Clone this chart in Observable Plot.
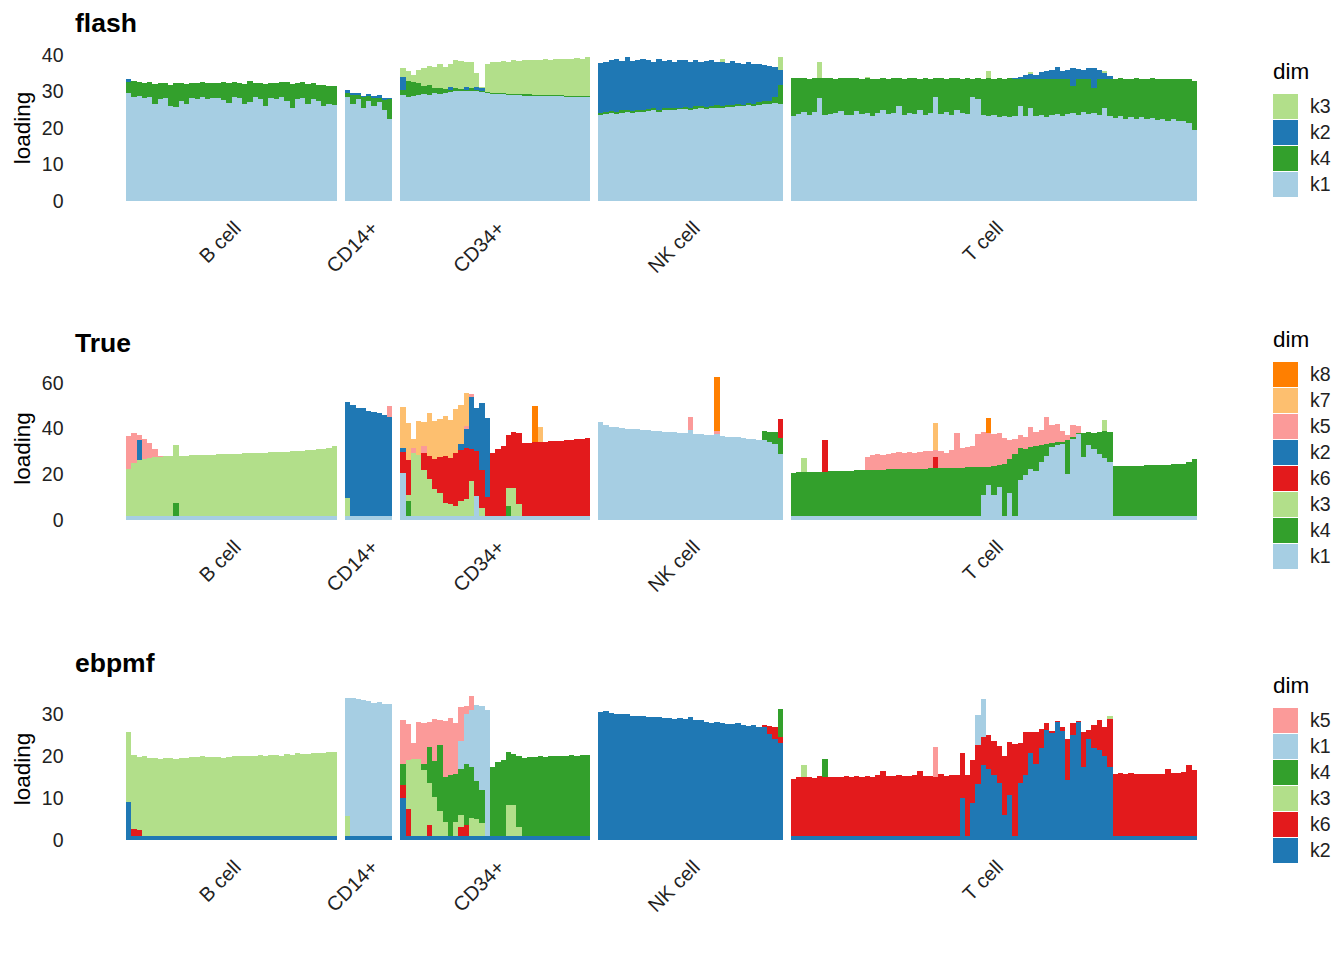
<!DOCTYPE html>
<html><head><meta charset="utf-8">
<script src="https://cdn.jsdelivr.net/npm/d3@7"></script>
<script src="https://cdn.jsdelivr.net/npm/@observablehq/plot@0.6"></script>
<style>
html,body{margin:0;padding:0;background:#fff;}
#root{position:relative;width:1344px;height:960px;overflow:hidden;background:#fff;font-family:"Liberation Sans",Arial,Helvetica,sans-serif;}
.panel{position:absolute;left:0;width:1344px;height:320px;}
.panel svg{position:absolute;left:0;top:0;}
.ptitle{position:absolute;left:75px;top:10px;font-size:26.5px;line-height:26.5px;font-weight:bold;color:#000;}
.legend{position:absolute;left:1273px;}
.ltitle{font-size:22.5px;line-height:22.5px;color:#000;height:33px;}
.item{position:relative;height:26px;width:70px;}
.sw{position:absolute;left:0;top:0;width:25px;height:25px;}
.lab{position:absolute;left:37px;top:0;line-height:25px;font-size:19.5px;color:#222;}
</style></head><body><div id="root"></div>
<script>
// ---------- categories ----------
const facetNames = ["B cell", "CD14+", "CD34+", "NK cell", "T cell"];
const facetCells = [40, 9, 36, 35, 77];
const facetGap = 1.5;
const palette = {k1:"#A6CEE3", k2:"#1F78B4", k3:"#B2DF8A", k4:"#33A02C", k5:"#FB9A99", k6:"#E31A1C", k7:"#FDBF6F", k8:"#FF7F00"};

// ---------- flash ----------
const flash_B_k1 = [29.5,28.5,28.8,28.2,28.5,26.5,28.0,28.3,26.0,25.8,27.5,26.5,28.2,28.0,28.4,28.0,28.3,28.1,27.8,26.8,28.4,28.2,26.5,27.2,28.5,28.0,26.0,28.3,28.0,28.4,27.5,25.5,28.0,28.2,26.5,28.0,27.5,26.0,26.5,26.2];
const flash_B_k4 = [3.2,4.3,3.8,4.2,4.0,5.5,4.3,3.9,5.9,6.4,4.8,5.5,4.2,4.3,4.1,4.2,4.1,4.2,4.8,5.4,4.1,4.1,5.5,5.6,3.9,4.3,6.1,4.1,4.2,4.2,5.0,6.5,4.4,4.3,5.6,4.3,4.4,5.8,5.0,5.3];
const flash_B_k2 = [[0,0.6]];
const flash_CD14_k1 = [28.5,26.5,28.0,25.5,27.5,26.0,27.0,25.0,22.5];
const flash_CD14_k4 = [1.0,2.5,1.0,3.0,1.2,2.2,1.2,2.8,5.5];
const flash_CD14_k2 = [0.8,0.5,0.6,0.4,0.7,0.6,0.8,0.5,0.3];
const flash_CD34_k1 = [29.0,28.5,28.8,29.0,29.2,29.0,29.5,29.3,29.6,29.8,30.0,30.2,30.0,30.1,30.0,29.8,29.5,29.4,29.3,29.2,29.1,29.0,29.0,28.9,28.9,28.8,28.8,28.8,28.7,28.7,28.7,28.6,28.6,28.6,28.5,28.5];
const flash_CD34_k4 = [1.5,4.5,3.8,3.3,2.3,2.8,1.5,1.7,1.2,0.6,1.0,0.6,0.3,0.9,0.3,0.3,0.3,0.3,0.3,0.3,0.3,0.3,0.3,0.3,0.3,0.3,0.3,0.3,0.3,0.3,0.3,0.3,0.3,0.3,0.3,0.3];
const flash_CD34_k2 = [[0,3.4],[9,0.8],[12,1.0],[14,1.0],[15,0.8]];
const flash_CD34_k3 = [2.5,2.5,2.0,3.7,5.0,5.2,5.6,6.6,6.0,6.3,7.6,7.6,6.7,7.2,3.7,0.2,7.7,8.3,8.6,8.8,8.8,9.2,9.1,9.4,9.3,9.6,9.5,9.7,9.7,9.9,9.8,10.1,10.0,10.2,10.2,10.6];
const flash_NK_k1 = [23.5,23.8,24.0,23.9,24.2,24.3,24.1,24.5,24.4,24.6,24.8,24.5,24.9,25.0,24.8,25.1,25.2,25.0,25.3,25.4,25.2,25.5,25.6,25.4,25.8,25.7,26.0,25.9,26.2,26.0,26.4,26.5,26.6,26.8,26.5];
const flash_NK_k4 = [0.6,0.5,0.6,0.5,0.6,0.5,0.6,0.5,0.6,0.5,0.6,0.5,0.6,0.5,0.6,0.5,0.6,0.5,0.6,0.5,0.6,0.5,0.6,0.5,0.6,0.5,0.6,0.5,0.6,0.6,0.7,0.8,0.9,1.8,5.3];
const flash_NK_k2 = [13.7,13.7,14.0,14.6,13.6,14.7,13.6,13.6,13.8,13.4,12.8,13.8,12.9,13.1,12.6,12.9,12.9,12.7,12.6,12.1,12.5,12.6,11.8,12.3,11.4,12.1,11.3,11.2,11.2,11.0,10.3,9.9,9.5,8.2,4.2];
const flash_NK_k3 = [[23,0.8],[34,3.5]];
const flash_T_k1 = [23.4,23.8,24.5,23.6,24.3,28.2,23.5,23.8,24.0,24.6,23.6,23.5,24.7,23.9,24.0,23.4,24.2,25.0,23.8,24.0,25.9,23.6,24.1,23.8,24.8,23.5,24.0,28.4,23.7,24.4,23.6,24.8,24.0,23.9,28.5,28.0,23.5,23.2,23.6,23.0,23.4,22.9,23.3,25.9,23.2,25.4,23.4,23.6,23.1,23.5,23.7,23.3,23.8,24.0,23.5,24.3,23.8,24.0,23.6,25.5,23.2,22.8,23.3,22.6,23.0,22.5,23.1,22.4,22.8,22.3,22.6,22.0,22.4,21.8,22.0,21.5,19.5];
const flash_T_k4 = [10.4,9.8,9.2,9.9,9.4,5.6,10.1,9.9,9.5,9.0,10.2,10.1,9.0,9.6,9.6,10.0,9.3,8.6,9.7,9.7,7.7,9.9,9.5,9.9,8.7,10.1,9.5,5.3,9.9,9.1,10.0,8.9,9.5,9.7,5.0,5.6,10.0,10.4,9.9,10.6,10.1,10.7,10.1,7.4,10.2,7.9,9.9,9.8,10.2,9.8,9.7,10.0,9.5,7.5,9.8,9.0,9.6,7.0,9.7,7.9,10.3,10.7,10.3,10.9,10.5,11.1,10.4,11.1,10.8,11.2,10.8,11.5,11.0,11.7,11.4,11.8,13.5];
const flash_T_k2 = [[42,0.3],[43,0.6],[44,1.0],[45,1.5],[46,1.2],[47,2.0],[48,2.2],[49,2.5],[50,3.2],[51,2.4],[52,2.6],[53,4.8],[54,2.8],[55,2.5],[56,2.9],[57,5.5],[58,2.6],[59,1.8],[60,0.8]];
const flash_T_k3 = [[5,4.2],[14,0.4],[37,2.0],[45,0.6],[59,0.5]];

// ---------- True ----------
const true_B_k1 = [1.6,1.6,1.6,1.6,1.6,1.6,1.6,1.6,1.6,1.6,1.6,1.6,1.6,1.6,1.6,1.6,1.6,1.6,1.6,1.6,1.6,1.6,1.6,1.6,1.6,1.6,1.6,1.6,1.6,1.6,1.6,1.6,1.6,1.6,1.6,1.6,1.6,1.6,1.6,1.6];
const true_B_k4 = [[9,5.7]];
const true_B_k3 = [20.9,23.4,24.6,25.2,25.6,25.9,26.1,26.2,26.4,25.5,26.5,26.6,26.7,26.8,26.9,26.9,27.0,27.1,27.2,27.2,27.3,27.4,27.5,27.6,27.7,27.8,27.9,28.0,28.1,28.2,28.3,28.4,28.5,28.7,28.9,29.1,29.3,29.6,30.0,30.6];
const true_B_k2 = [[2,9.0]];
const true_B_k5 = [[0,14.3],[1,13.2],[2,2.0],[3,8.6],[4,6.3],[5,3.5],[6,0.5]];
const true_CD14_k1 = [1.6,1.6,1.6,1.6,1.6,1.6,1.6,1.6,1.6];
const true_CD14_k3 = [[0,7.9]];
const true_CD14_k2 = [42.0,48.7,47.6,47.2,46.2,45.7,45.3,44.4,43.6];
const true_CD14_k5 = [[8,4.5]];
const true_CD34_k1 = [20.7,1.6,1.6,1.6,1.6,1.6,1.6,1.6,1.6,1.6,1.6,1.6,1.6,1.6,10.5,1.6,1.6,1.6,1.6,1.6,1.6,1.6,1.6,1.6,1.6,1.6,1.6,1.6,1.6,1.6,1.6,1.6,1.6,1.6,1.6,1.6];
const true_CD34_k4 = [[1,6.5],[20,4.5]];
const true_CD34_k3 = [0,3.0,27.9,27.0,20.4,16.2,11.8,10.4,6.0,5.3,4.5,6.7,7.4,15.4,0,3.8,0,0,0,0,7.9,12.4,5.4,0,0,0,0,0,0,0,0,0,0,0,0,0];
const true_CD34_k6 = [9.0,15.0,0,0,7.5,10.2,13.1,15.5,20.4,20.1,23.4,22.3,22.5,14.0,19.5,16.6,8.4,27.9,29.6,30.9,23.0,24.5,31.0,32.2,32.3,32.4,32.5,32.6,32.8,32.9,33.1,33.3,33.5,33.8,34.0,34.4];
const true_CD34_k2 = [[0,2.0],[11,2.5],[12,8.2],[13,23.0],[14,19.2],[15,29.3],[16,34.8]];
const true_CD34_k5 = [[2,1.8],[4,3.0],[12,1.5],[13,1.3]];
const true_CD34_k7 = [[0,17.9],[1,16.5],[2,4.0],[3,14.5],[4,10.5],[5,19.0],[6,17.0],[7,16.5],[8,17.5],[9,16.8],[10,18.9],[11,17.1],[12,14.2],[26,6.8]];
const true_CD34_k8 = [[25,16.0]];
const true_NK_k1 = [42.8,41.5,40.8,40.5,40.3,40.0,39.8,39.6,39.4,39.2,39.0,38.9,38.7,38.5,38.4,38.2,38.1,39.5,37.7,37.5,37.3,37.1,37.5,36.7,36.5,36.3,36.1,35.9,35.6,35.3,35.0,34.8,34.2,33.3,29.0];
const true_NK_k4 = [[31,4.3],[32,4.5],[33,5.0],[34,7.0]];
const true_NK_k6 = [[34,8.0]];
const true_NK_k5 = [[17,5.7],[22,1.5]];
const true_NK_k8 = [[22,23.5]];
const true_T_k1 = [1.6,1.6,1.6,1.6,1.6,1.6,1.6,1.6,1.6,1.6,1.6,1.6,1.6,1.6,1.6,1.6,1.6,1.6,1.6,1.6,1.6,1.6,1.6,1.6,1.6,1.6,1.6,1.6,1.6,1.6,1.6,1.6,1.6,1.6,1.6,1.6,
  11.0,15.3,11.0,14.5,1.6,11.7,1.6,17.5,19.5,22.5,21.5,25.5,28.0,32.0,33.0,33.2,20.0,35.5,37.5,27.7,33.0,31.0,29.0,27.0,25.5,
  1.6,1.6,1.6,1.6,1.6,1.6,1.6,1.6,1.6,1.6,1.6,1.6,1.6,1.6,1.6,1.6];
const true_T_k4 = [19.1,19.2,19.3,19.4,19.5,19.6,19.6,19.7,19.8,19.9,19.9,20.0,20.1,20.1,20.2,20.3,20.3,20.4,20.5,20.5,20.6,20.7,20.7,20.8,20.9,20.9,21.0,21.1,
  21.3,21.3,21.3,21.3,21.3,21.4,21.4,21.4,
  12.0,7.7,12.5,9.5,22.9,14.8,27.4,14.0,11.5,9.5,11.0,7.3,5.2,1.5,1.0,1.0,15.0,1.0,0.4,10.3,5.5,7.0,9.5,12.0,13.0,
  22.0,22.0,22.1,22.1,22.2,22.2,22.3,22.4,22.4,22.5,22.6,22.7,22.8,23.0,23.6,24.9];
const true_T_k3 = [[2,6.4],[59,4.8]];
const true_T_k6 = [[6,13.8],[27,5.0]];
const true_T_k5 = [0,0,0,0,0,0,0,0,0,0,0,0,0,0,
  5.7,6.6,6.9,6.6,6.8,7.1,7.4,7.1,7.5,7.1,7.4,7.7,7.4,2.9,
  7.1,6.6,7.7,15.0,8.6,8.8,9.5,14.5,15.5,15.0,14.0,14.2,11.5,8.5,6.5,5.5,5.5,8.8,6.0,6.7,11.7,8.0,8.0,4.8,2.0,5.0,3.1,
  0,0,0,0,0,0,0,0,0,0,0,0,0,0,0,0,0,0,0,0,0,0];
const true_T_k7 = [[27,11.7]];
const true_T_k8 = [[37,6.5]];

// ---------- ebpmf ----------
const ebpmf_B_k2 = [9.0,1,1,1,1,1,1,1,1,1,1,1,1,1,1,1,1,1,1,1,1,1,1,1,1,1,1,1,1,1,1,1,1,1,1,1,1,1,1,1];
const ebpmf_B_k6 = [[1,1.6],[2,1.5]];
const ebpmf_B_k3 = [16.6,17.6,17.3,18.9,18.6,18.5,18.4,18.6,18.5,18.3,18.6,18.5,18.8,18.7,18.9,18.8,18.7,18.8,18.6,18.7,19.0,18.9,19.1,18.9,19.0,19.2,19.1,19.3,19.2,19.1,19.5,19.3,19.6,19.4,19.5,19.7,19.6,19.8,19.9,20.0];
const ebpmf_CD14_k2 = [1,1,1,1,1,1,1,1,1];
const ebpmf_CD14_k3 = [[0,4.6]];
const ebpmf_CD14_k1 = [28.2,32.7,32.5,32.3,32.0,31.6,31.9,31.4,31.3];
const ebpmf_CD34_k2 = [10.0,1,1,1,1,1,1,1,1,1,1,1,1,1,1,1,1,1,1,1,1,1,1,1,1,1,1,1,1,1,1,1,1,1,1,1];
const ebpmf_CD34_k6 = [[0,3.0],[1,6.5],[5,2.6],[11,2.0],[12,2.5]];
const ebpmf_CD34_k3 = [0,11.5,18.4,18.4,15.7,9.9,9.3,6.0,3.4,0,3.4,3.0,0,4.2,4.0,3.0,0,0,0,0,7.3,7.3,2.2,0,0,0,0,0,0,0,0,0,0,0,0,0];
const ebpmf_CD34_k4 = [5.0,0,0,0,1.5,8.7,8.5,15.6,10.5,14.5,11.4,11.0,14.5,12.3,9.0,8.0,0,16.5,17.5,18.0,12.7,12.2,16.8,18.6,18.8,18.7,18.9,18.8,19.0,18.9,19.1,19.0,19.2,19.1,19.3,19.2];
const ebpmf_CD34_k1 = [[11,6.5],[12,12.0],[13,13.5],[14,18.1],[15,19.8],[16,30.0]];
const ebpmf_CD34_k5 = [[0,10.6],[1,8.6],[2,3.6],[3,8.6],[4,9.6],[5,5.8],[6,10.0],[7,6.0],[8,13.5],[9,13.5],[10,12.0],[11,8.2],[12,2.0],[13,3.3]];
const ebpmf_NK_k2 = [30.5,30.6,30.2,30.0,29.9,30.0,29.6,29.5,29.6,29.4,29.2,29.3,29.0,29.1,28.9,29.0,28.8,29.4,28.6,28.5,28.0,27.9,28.0,27.8,27.7,27.6,27.8,27.5,27.2,27.4,27.0,26.8,25.2,24.0,23.0];
const ebpmf_NK_k6 = [[31,0.5],[32,2.0],[33,3.0],[34,1.5]];
const ebpmf_NK_k4 = [[34,6.6]];
const ebpmf_T_k2 = [1,1,1,1,1,1,1,1,1,1,1,1,1,1,1,1,1,1,1,1,1,1,1,1,1,1,1,1,1,1,1,1,
  9.9,1.0,8.7,13.3,17.9,16.8,15.5,13.5,6.0,10.7,1.0,13.5,15.5,20.6,18.0,21.8,26.2,25.5,28.2,26.0,14.3,25.0,28.2,17.5,24.0,22.0,21.5,20.0,17.5,
  1,1,1,1,1,1,1,1,1,1,1,1,1,1,1,1];
const ebpmf_T_k6 = [13.5,14.0,13.9,14.0,13.8,14.2,14.0,13.9,14.1,14.0,14.2,14.0,14.3,14.1,14.2,14.0,14.4,15.4,14.3,14.2,14.5,14.3,14.2,14.4,15.4,14.2,14.3,14.0,
  14.6,14.3,14.5,14.4,
  10.7,14.5,10.3,9.3,6.7,8.2,8.1,9.0,14.0,12.7,21.8,9.5,10.3,5.2,7.6,4.7,1.6,0.5,0.2,1.0,9.7,2.8,0.2,8.3,2.2,5.4,7.1,7.0,11.3,
  14.8,15.0,14.7,14.9,14.6,14.8,14.7,14.6,14.8,14.6,15.8,14.9,15.0,15.2,16.8,15.6];
const ebpmf_T_k3 = [[2,3.0],[60,0.8]];
const ebpmf_T_k4 = [[6,4.4]];
const ebpmf_T_k1 = [[35,7.2],[36,8.9]];
const ebpmf_T_k5 = [[27,7.2]];

// ---------- panel definitions (built from the arrays) ----------
const panelList = [
  {title: "flash", order: ["k1","k4","k2","k3"], yMax: 40.27, ticks: [0,10,20,30,40], mt: 54, mb: 119,
   series: [[0,"k1",flash_B_k1],[0,"k4",flash_B_k4],[0,"k2",flash_B_k2],
            [1,"k1",flash_CD14_k1],[1,"k4",flash_CD14_k4],[1,"k2",flash_CD14_k2],
            [2,"k1",flash_CD34_k1],[2,"k4",flash_CD34_k4],[2,"k2",flash_CD34_k2],[2,"k3",flash_CD34_k3],
            [3,"k1",flash_NK_k1],[3,"k4",flash_NK_k4],[3,"k2",flash_NK_k2],[3,"k3",flash_NK_k3],
            [4,"k1",flash_T_k1],[4,"k4",flash_T_k4],[4,"k2",flash_T_k2],[4,"k3",flash_T_k3]]},
  {title: "True", order: ["k1","k4","k3","k6","k2","k5","k7","k8"], yMax: 63.0, ticks: [0,20,40,60], mt: 56, mb: 120,
   series: [[0,"k1",true_B_k1],[0,"k4",true_B_k4],[0,"k3",true_B_k3],[0,"k2",true_B_k2],[0,"k5",true_B_k5],
            [1,"k1",true_CD14_k1],[1,"k3",true_CD14_k3],[1,"k2",true_CD14_k2],[1,"k5",true_CD14_k5],
            [2,"k1",true_CD34_k1],[2,"k4",true_CD34_k4],[2,"k3",true_CD34_k3],[2,"k6",true_CD34_k6],[2,"k2",true_CD34_k2],[2,"k5",true_CD34_k5],[2,"k7",true_CD34_k7],[2,"k8",true_CD34_k8],
            [3,"k1",true_NK_k1],[3,"k4",true_NK_k4],[3,"k6",true_NK_k6],[3,"k5",true_NK_k5],[3,"k8",true_NK_k8],
            [4,"k1",true_T_k1],[4,"k4",true_T_k4],[4,"k3",true_T_k3],[4,"k6",true_T_k6],[4,"k5",true_T_k5],[4,"k7",true_T_k7],[4,"k8",true_T_k8]]},
  {title: "ebpmf", order: ["k2","k6","k3","k4","k1","k5"], yMax: 34.05, ticks: [0,10,20,30], mt: 57, mb: 120,
   series: [[0,"k2",ebpmf_B_k2],[0,"k6",ebpmf_B_k6],[0,"k3",ebpmf_B_k3],
            [1,"k2",ebpmf_CD14_k2],[1,"k3",ebpmf_CD14_k3],[1,"k1",ebpmf_CD14_k1],
            [2,"k2",ebpmf_CD34_k2],[2,"k6",ebpmf_CD34_k6],[2,"k3",ebpmf_CD34_k3],[2,"k4",ebpmf_CD34_k4],[2,"k1",ebpmf_CD34_k1],[2,"k5",ebpmf_CD34_k5],
            [3,"k2",ebpmf_NK_k2],[3,"k6",ebpmf_NK_k6],[3,"k4",ebpmf_NK_k4],
            [4,"k2",ebpmf_T_k2],[4,"k6",ebpmf_T_k6],[4,"k3",ebpmf_T_k3],[4,"k4",ebpmf_T_k4],[4,"k1",ebpmf_T_k1],[4,"k5",ebpmf_T_k5]]}
];

// facet offsets along the cell axis
const facetStart = [];
{ let s = 0; for (let i = 0; i < facetCells.length; i++) { facetStart.push(s); s += facetCells[i] + facetGap; } }
const totalUnits = facetStart[facetStart.length - 1] + facetCells[facetCells.length - 1];

function expand(n, spec) {
  if (spec.length && Array.isArray(spec[0])) {
    const a = new Array(n).fill(0);
    for (const [i, v] of spec) a[i] = v;
    return a;
  }
  return spec;
}

const FONT = '"Liberation Sans", Arial, Helvetica, sans-serif';
const root = document.getElementById("root");

panelList.forEach((p, pi) => {
  const rows = [];
  for (const [f, comp, spec] of p.series) {
    const vals = expand(facetCells[f], spec);
    vals.forEach((v, i) => {
      if (v > 0) rows.push({facet: facetNames[f], cell: i, x1: facetStart[f] + i, x2: facetStart[f] + i + 1, comp, value: v});
    });
  }
  rows.sort((a, b) => p.order.indexOf(a.comp) - p.order.indexOf(b.comp));

  const svg = Plot.plot({
    width: 1240, height: 320,
    marginLeft: 126, marginRight: 43, marginTop: p.mt, marginBottom: p.mb,
    style: {fontFamily: FONT, fontSize: "19.5px", background: "transparent", overflow: "visible"},
    x: {domain: [0, totalUnits], axis: null},
    y: {domain: [0, p.yMax], axis: null},
    color: {type: "ordinal", domain: p.order, range: p.order.map(k => palette[k])},
    marks: [
      Plot.rectY(rows, {x1: "x1", x2: "x2", y: "value", fill: "comp", order: p.order, shapeRendering: "crispEdges"}),
      Plot.axisY({ticks: p.ticks, tickSize: 0, tickPadding: 63, label: null, color: "#222", fontSize: 19.5}),
      Plot.text(facetNames, {x: (d, i) => facetStart[i] + facetCells[i] / 2, frameAnchor: "bottom", dx: 0, dy: 18,
        rotate: -45, textAnchor: "end", lineAnchor: "top", fontSize: 20, fill: "#222"}),
      Plot.text(["loading"], {frameAnchor: "left", dx: -104, rotate: -90, textAnchor: "middle", lineAnchor: "middle", fontSize: 22.5, fill: "#000"})
    ]
  });

  const panel = document.createElement("div");
  panel.className = "panel";
  panel.style.top = (pi * 320) + "px";
  panel.appendChild(svg);

  const t = document.createElement("div");
  t.className = "ptitle";
  t.textContent = p.title;
  panel.appendChild(t);

  const legendKeys = p.order.slice().reverse();
  const keysTop = 145.5 - legendKeys.length * 13;
  const lg = document.createElement("div");
  lg.className = "legend";
  lg.style.top = (keysTop - 33) + "px";
  const lt = document.createElement("div");
  lt.className = "ltitle";
  lt.textContent = "dim";
  lg.appendChild(lt);
  for (const k of legendKeys) {
    const it = document.createElement("div");
    it.className = "item";
    const sw = document.createElement("div");
    sw.className = "sw";
    sw.style.background = palette[k];
    const lab = document.createElement("div");
    lab.className = "lab";
    lab.textContent = k;
    it.appendChild(sw); it.appendChild(lab);
    lg.appendChild(it);
  }
  panel.appendChild(lg);
  root.appendChild(panel);
});
</script></body></html>
